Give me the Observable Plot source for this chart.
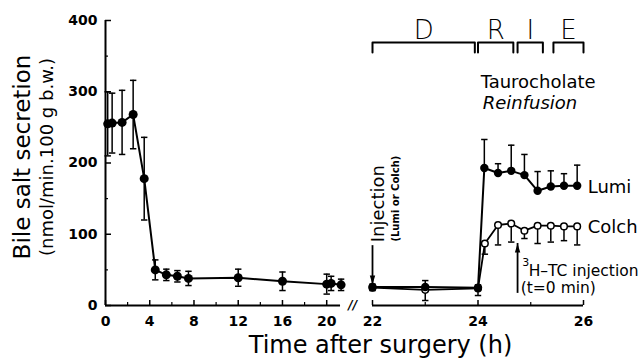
<!DOCTYPE html>
<html><head><meta charset="utf-8">
<script src="https://cdn.jsdelivr.net/npm/d3@7"></script>
<script src="https://cdn.jsdelivr.net/npm/@observablehq/plot@0.6"></script>
<style>body{margin:0;background:#fff} svg{display:block}</style>
</head><body><div id="chart"></div>
<script>
// ---- data ----
const leftHours = [0.2, 0.6, 1.5, 2.5, 3.5, 4.5, 5.5, 6.5, 7.5, 12, 16, 20, 20.4, 21.3];
const leftMean  = [255, 256, 257, 268, 178, 50, 43, 41, 38, 39, 34, 30, 31, 29];
const leftErr   = [45, 42, 45, 48, 58, 14, 8, 8, 10, 12, 13, 14, 10, 8];

const lumiHours = [22, 23, 24, 24.12, 24.38, 24.63, 24.88, 25.13, 25.38, 25.63, 25.88];
const lumiMean  = [26, 26, 25, 193, 186, 189, 183, 161, 167, 168, 168];
const lumiErrUp = [4, 9, 4, 40, 13, 36, 29, 27, 22, 17, 29];

const colchHours = [22, 23, 24, 24.13, 24.38, 24.63, 24.88, 25.13, 25.38, 25.63, 25.88];
const colchMean  = [25, 22, 24, 87, 113, 115, 105, 112, 112, 111, 111];
const colchErrDn = [4, 15, 10, 15, 28, 26, 11, 25, 23, 20, 26];

const yMajor = [0, 100, 200, 300, 400];
const yMinor = [50, 150, 250, 350];
const xMajor = [0, 4, 8, 12, 16, 20, 22, 24, 26];
const xMinor = [2, 6, 10, 14, 18, 23, 25];
const leftSpan = [0, 21.25];
const rightSpan = [22, 26];

const phases = [
  {label: "D", x1: 22.0, x2: 23.94},
  {label: "R", x1: 24.0, x2: 24.67},
  {label: "I", x1: 24.75, x2: 25.23},
  {label: "E", x1: 25.43, x2: 26.0}
];
const bracketTop = 369, bracketLeg = 355, bracketLabelY = 374;

const arrows = [
  {x: 22, from: 84, to: 29.5, dir: "down"},
  {x: 24.75, from: 17, to: 87, dir: "up"}
];

// ---- derived tables ----
const left = leftHours.map((h, i) => ({hour: h, value: leftMean[i], lo: leftMean[i] - leftErr[i], hi: leftMean[i] + leftErr[i]}));
const lumi = lumiHours.map((h, i) => ({hour: h, value: lumiMean[i], lo: lumiMean[i], hi: lumiMean[i] + lumiErrUp[i]}));
const colch = colchHours.map((h, i) => ({hour: h, value: colchMean[i], lo: colchMean[i] - colchErrDn[i], hi: colchMean[i]}));
const bracketPts = phases.flatMap(p => [
  {k: p.label, x: p.x1, y: bracketLeg}, {k: p.label, x: p.x1, y: bracketTop},
  {k: p.label, x: p.x2, y: bracketTop}, {k: p.label, x: p.x2, y: bracketLeg}
]);

// custom symbols
const capSymbol = {draw(ctx, size) { const w = Math.sqrt(size / Math.PI); ctx.moveTo(-w, 0); ctx.lineTo(w, 0); }};
const headDown = {draw(ctx, size) { const r = Math.sqrt(size / Math.PI); ctx.moveTo(-r * 0.6, -r); ctx.lineTo(r * 0.6, -r); ctx.lineTo(0, r); ctx.closePath(); }};
const headUp = {draw(ctx, size) { const r = Math.sqrt(size / Math.PI); ctx.moveTo(-r * 0.6, r); ctx.lineTo(r * 0.6, r); ctx.lineTo(0, -r); ctx.closePath(); }};

const F = "DejaVu Sans";

const chart = Plot.plot({
  width: 643, height: 360,
  marginLeft: 105, marginRight: 60, marginTop: 20, marginBottom: 55,
  style: {fontFamily: F, fontSize: "14px", background: "white", color: "black"},
  x: {type: "linear", domain: [0, 21.5, 22, 26], range: [105, 342.8, 372, 583]},
  y: {type: "linear", domain: [0, 400]},
  marks: [
    // axes lines
    Plot.ruleX([0], {y1: 0, y2: 400, strokeWidth: 2}),
    Plot.ruleY([0], {x1: leftSpan[0], x2: leftSpan[1], strokeWidth: 2}),
    Plot.ruleY([0], {x1: rightSpan[0], x2: rightSpan[1], strokeWidth: 2}),
    // inward ticks
    Plot.axisY(yMajor, {tickSize: 6, dx: 6, fill: "none", label: null, strokeWidth: 1.5}),
    Plot.axisY(yMinor, {tickSize: 3, dx: 3, fill: "none", label: null, strokeWidth: 1.2}),
    Plot.axisX(xMajor, {tickSize: 5, dy: -5, fill: "none", label: null, strokeWidth: 1.5}),
    Plot.axisX(xMinor, {tickSize: 3, dy: -3, fill: "none", label: null, strokeWidth: 1.2}),
    // tick labels
    Plot.axisY(yMajor, {tickSize: 0, tickPadding: 8, fontSize: 14, fontWeight: "bold", label: null}),
    Plot.axisX(xMajor, {tickSize: 0, tickPadding: 11, fontSize: 14, fontWeight: "bold", label: null}),
    Plot.text(["//"], {x: [21.66], y: [0], fontSize: 12, fontWeight: "bold", fontStyle: "italic"}),
    // axis titles
    Plot.text(["Bile salt secretion"], {frameAnchor: "left", textAnchor: "middle", lineAnchor: "middle", rotate: -90, dx: -83, dy: -6, fontSize: 23}),
    Plot.text(["(nmol/min.100 g b.w.)"], {frameAnchor: "left", textAnchor: "middle", lineAnchor: "middle", rotate: -90, dx: -58, dy: -6, fontSize: 18}),
    Plot.text(["Time after surgery (h)"], {frameAnchor: "bottom", lineAnchor: "middle", dx: 36, dy: 40, fontSize: 24}),
    // left panel
    Plot.ruleX(left, {x: "hour", y1: "lo", y2: "hi", strokeWidth: 1.5}),
    Plot.dot(left, {x: "hour", y: "hi", symbol: capSymbol, r: 3.2, stroke: "black", fill: "none", strokeWidth: 1.5}),
    Plot.dot(left, {x: "hour", y: "lo", symbol: capSymbol, r: 3.2, stroke: "black", fill: "none", strokeWidth: 1.5}),
    Plot.line(left, {x: "hour", y: "value", strokeWidth: 2}),
    Plot.dot(left, {x: "hour", y: "value", r: 4.5, fill: "black"}),
    // right panel: Colch (open circles, drawn first)
    Plot.ruleX(colch, {x: "hour", y1: "lo", y2: "hi", strokeWidth: 1.5}),
    Plot.dot(colch, {x: "hour", y: "lo", symbol: capSymbol, r: 3.2, stroke: "black", fill: "none", strokeWidth: 1.5}),
    Plot.line(colch, {x: "hour", y: "value", strokeWidth: 1.8}),
    Plot.dot(colch, {x: "hour", y: "value", r: 3.3, fill: "white", stroke: "black", strokeWidth: 1.5}),
    // right panel: Lumi (filled circles)
    Plot.ruleX(lumi, {x: "hour", y1: "lo", y2: "hi", strokeWidth: 1.5}),
    Plot.dot(lumi, {x: "hour", y: "hi", symbol: capSymbol, r: 3.2, stroke: "black", fill: "none", strokeWidth: 1.5}),
    Plot.line(lumi, {x: "hour", y: "value", strokeWidth: 2}),
    Plot.dot(lumi, {x: "hour", y: "value", r: 4.2, fill: "black"}),
    // phase brackets
    Plot.line(bracketPts, {x: "x", y: "y", z: "k", strokeWidth: 2}),
    Plot.text(phases, {x: d => (d.x1 + d.x2) / 2, y: () => bracketLabelY, text: "label", fontSize: 26, fontWeight: 300, fill: "black", lineAnchor: "bottom"}),
    // arrows
    Plot.ruleX(arrows, {x: "x", y1: "from", y2: "to", strokeWidth: 1.8}),
    Plot.dot(arrows.filter(a => a.dir === "down"), {x: "x", y: "to", symbol: headDown, r: 4.5, fill: "black", stroke: "none", dy: -4.5}),
    Plot.dot(arrows.filter(a => a.dir === "up"), {x: "x", y: "to", symbol: headUp, r: 4.5, fill: "black", stroke: "none", dy: 4.5}),
    // annotations
    Plot.text(["Injection"], {x: [22.1], y: [143], rotate: -90, fontSize: 18}),
    Plot.text(["(Lumi or Colch)"], {x: [22.44], y: [150], rotate: -90, fontSize: 10, fontWeight: "bold"}),
    Plot.text(["Taurocholate"], {x: [24.05], y: [313], textAnchor: "start", fontSize: 18}),
    Plot.text(["Reinfusion"], {x: [24.09], y: [283.5], textAnchor: "start", fontSize: 18, fontStyle: "italic"}),
    Plot.text(["Lumi"], {x: [26.08], y: [165.6], textAnchor: "start", fontSize: 18}),
    Plot.text(["Colch"], {x: [26.08], y: [109.5], textAnchor: "start", fontSize: 18}),
    Plot.text(["3"], {x: [24.84], y: [60], textAnchor: "start", fontSize: 11}),
    Plot.text(["H\u2013TC injection"], {x: [24.96], y: [47.7], textAnchor: "start", fontSize: 15.5}),
    Plot.text(["(t=0 min)"], {x: [24.81], y: [23.9], textAnchor: "start", fontSize: 15.5})
  ]
});
document.getElementById("chart").appendChild(chart);
</script>
</body></html>
